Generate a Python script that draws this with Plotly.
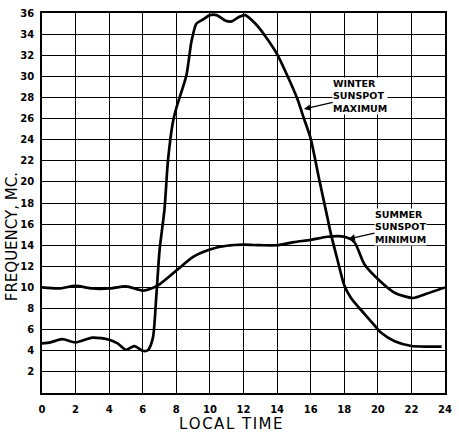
import plotly.graph_objects as go

# Winter sunspot maximum (hour, MHz)
winter_x = [0, 0.5, 1.2, 2, 3, 4, 4.5, 5, 5.5, 6, 6.3, 6.6, 6.8, 7.0, 7.3, 7.5, 7.8, 8.0,
            8.6, 8.9, 9.2, 9.6, 10, 10.4, 10.9, 11.3, 11.7, 12.1, 12.7, 13.3, 14, 14.6,
            15.2, 15.6, 16, 16.5, 17, 17.2, 17.6, 18, 18.4, 19.2, 19.75, 20.2, 21, 22, 23, 23.8]
winter_y = [4.7, 4.8, 5.1, 4.8, 5.25, 5.05, 4.7, 4.1, 4.45, 4.0, 4.05, 5.2, 9, 13.5, 17.5, 22,
            25.7, 27, 30.1, 33.3, 35, 35.4, 35.8, 35.8, 35.3, 35.2, 35.6, 35.8, 35, 33.8, 32.1,
            30.1, 27.9, 26, 24.1, 20.3, 16.6, 15.1, 12.6, 10.2, 9, 7.5, 6.5, 5.7, 4.9, 4.45, 4.4, 4.4]

# Summer sunspot minimum
summer_x = [0, 1, 2, 3, 4, 5, 6, 6.5, 7, 8, 9, 10, 11, 12, 13, 14, 15, 16, 17, 18, 18.6,
            19.2, 20, 21, 22.1, 22.9, 24]
summer_y = [10, 9.9, 10.15, 9.9, 9.9, 10.1, 9.7, 9.9, 10.3, 11.6, 12.9, 13.6, 13.95, 14.05,
            14, 14, 14.3, 14.5, 14.8, 14.8, 14.3, 12.2, 10.8, 9.5, 9, 9.4, 10]

x_ticks = list(range(0, 25, 2))
y_ticks = list(range(2, 37, 2))

fig = go.Figure()
for xs, ys in [(winter_x, winter_y), (summer_x, summer_y)]:
    fig.add_trace(go.Scatter(x=xs, y=ys, mode="lines",
                             line=dict(color="black", width=2.7, shape="spline", smoothing=0.7),
                             showlegend=False, hoverinfo="skip"))

tick_font = dict(family="DejaVu Sans", size=10, color="black", weight="bold")
fig.update_layout(
    width=459, height=432,
    margin=dict(l=42, r=7, t=11, b=39),
    paper_bgcolor="white", plot_bgcolor="white",
    xaxis=dict(range=[0, 24], tickvals=x_ticks, ticktext=[str(v) for v in x_ticks],
               showgrid=True, gridcolor="black", gridwidth=1.3, zeroline=False,
               showline=True, linecolor="black", linewidth=1.5, mirror=True,
               tickfont=tick_font, ticks="", ticklabelstandoff=6),
    yaxis=dict(range=[0, 36], tickvals=y_ticks, ticktext=[str(v) for v in y_ticks],
               showgrid=True, gridcolor="black", gridwidth=1.3, zeroline=False,
               showline=True, linecolor="black", linewidth=1.5, mirror=True,
               tickfont=tick_font, ticks="", ticklabelstandoff=4),
    font=dict(family="DejaVu Sans", color="black"),
)

ann_font = dict(family="DejaVu Sans", size=9.5, color="black", weight="bold")
fig.add_annotation(x=15.6, y=26.9, ax=18.95, ay=28.15, axref="x", ayref="y",
                   text="WINTER<br>SUNSPOT<br>MAXIMUM", align="left",
                   font=ann_font, bgcolor="white", showarrow=True, arrowhead=2,
                   arrowsize=1, arrowwidth=1.3, arrowcolor="black", borderpad=0)
fig.add_annotation(x=18.25, y=14.6, ax=21.35, ay=15.7, axref="x", ayref="y",
                   text="SUMMER<br>SUNSPOT<br>MINIMUM", align="left",
                   font=ann_font, bgcolor="white", showarrow=True, arrowhead=2,
                   arrowsize=1, arrowwidth=1.3, arrowcolor="black", borderpad=0)

hs = "\u200a"
fig.add_annotation(text=hs.join("LOCAL") + hs + " " + hs + hs.join("TIME"),
                   xref="paper", yref="paper", x=0.467, y=0,
                   yshift=-31, yanchor="middle", xanchor="center", showarrow=False,
                   font=dict(family="DejaVu Sans", size=15, color="black"))
fig.add_annotation(text="FREQUENCY, MC.", xref="paper", yref="paper", x=0, xshift=-30,
                   xanchor="center", yanchor="middle",
                   y=0.41, textangle=-90, showarrow=False,
                   font=dict(family="DejaVu Sans", size=15, color="black"))

fig.write_html("out.html", config={"displayModeBar": False},
               post_script="document.body.style.margin='0';")
